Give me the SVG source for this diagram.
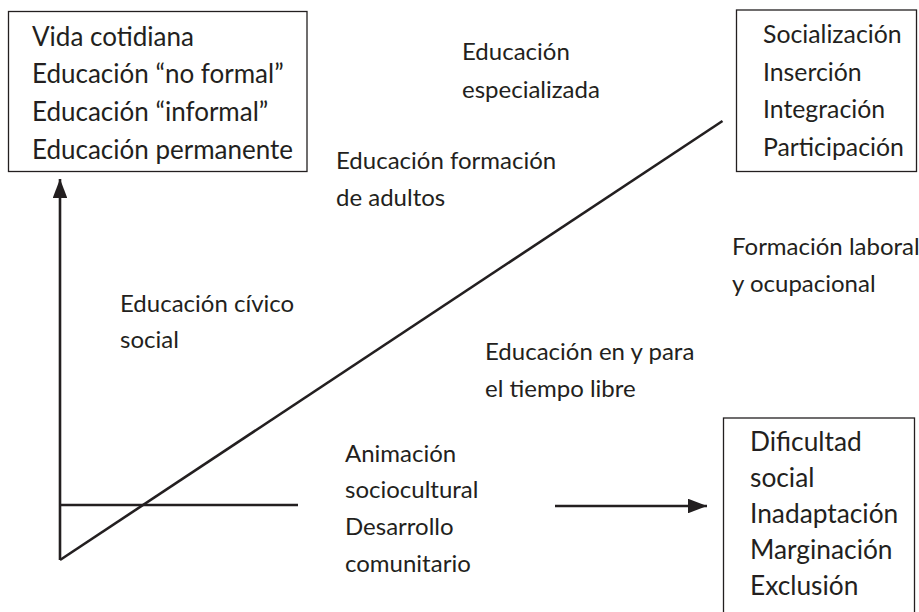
<svg xmlns="http://www.w3.org/2000/svg" width="919" height="612" viewBox="0 0 919 612">
<defs>
<style>
text{font-family:Lato,"Open Sans","Liberation Sans",sans-serif;fill:#231f20}
.tl{font-size:26px}
.md{font-size:24px}
.tr{font-size:24.8px}
.br{font-size:26.3px}
.box{fill:#fff;stroke:#231f20;stroke-width:1.3}
.ln{fill:none;stroke:#231f20;stroke-width:2.6}
</style>
<marker id="ah" markerWidth="7.3" markerHeight="5.6" refX="7.3" refY="2.8" orient="auto" markerUnits="strokeWidth">
<path d="M0,0 L7.3,2.8 L0,5.6 Z" fill="#231f20"/>
</marker>
</defs>
<rect width="919" height="612" fill="#fff"/>
<g id="connectors">
<path class="ln" d="M60,560 L60,179" marker-end="url(#ah)"/>
<path class="ln" d="M60,560 L722.5,121" stroke-linejoin="miter"/>
<path class="ln" d="M60,505 L298,505"/>
<path class="ln" d="M555,506 L707,506" marker-end="url(#ah)"/>
</g>
<g id="node-cotidiana">
<rect class="box" x="8.5" y="11.5" width="298.5" height="160"/>
<text class="tl" x="32" y="45.5">Vida cotidiana</text>
<text class="tl" x="32" y="83.3">Educación “no formal”</text>
<text class="tl" x="32" y="121">Educación “informal”</text>
<text class="tl" x="32" y="158.5">Educación permanente</text>
</g>
<g id="node-socializacion">
<rect class="box" x="736.5" y="10" width="180" height="161.5"/>
<text class="tr" x="763" y="43.3">Socialización</text>
<text class="tr" x="763" y="81">Inserción</text>
<text class="tr" x="763" y="118.3">Integración</text>
<text class="tr" x="763" y="155.5">Participación</text>
</g>
<g id="node-dificultad">
<rect class="box" x="723.5" y="418" width="191" height="200"/>
<text class="br" x="750" y="451">Dificultad</text>
<text class="br" x="750" y="487">social</text>
<text class="br" x="750" y="523">Inadaptación</text>
<text class="br" x="750" y="559">Marginación</text>
<text class="br" x="750" y="595">Exclusión</text>
</g>
<g id="label-especializada">
<text class="md" x="462" y="60">Educación</text>
<text class="md" x="462" y="98">especializada</text>
</g>
<g id="label-adultos">
<text class="md" x="336" y="168.5">Educación formación</text>
<text class="md" x="336" y="205.5">de adultos</text>
</g>
<g id="label-civico">
<text class="md" x="120" y="311.5">Educación cívico</text>
<text class="md" x="120" y="347.5">social</text>
</g>
<g id="label-laboral">
<text class="md" x="732" y="255">Formación laboral</text>
<text class="md" x="732" y="292">y ocupacional</text>
</g>
<g id="label-tiempo">
<text class="md" x="485" y="360">Educación en y para</text>
<text class="md" x="485" y="397">el tiempo libre</text>
</g>
<g id="label-animacion">
<text class="md" x="345" y="461.5">Animación</text>
<text class="md" x="345" y="498">sociocultural</text>
<text class="md" x="345" y="535">Desarrollo</text>
<text class="md" x="345" y="571.5">comunitario</text>
</g>
</svg>
